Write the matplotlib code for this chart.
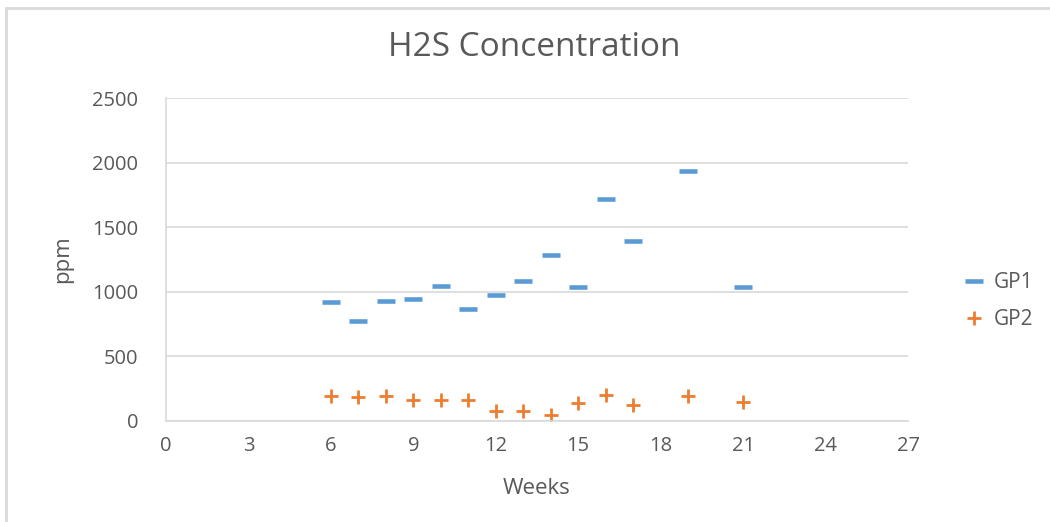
import matplotlib
matplotlib.use("Agg")
import matplotlib.pyplot as plt
from matplotlib.patches import Rectangle

weeks = [6, 7, 8, 9, 10, 11, 12, 13, 14, 15, 16, 17, 19, 21]
gp1 = [923, 772, 931, 941, 1046, 869, 977, 1082, 1288, 1038, 1715, 1395, 1936, 1040]
gp2 = [190, 182, 190, 159, 159, 159, 75, 75, 44, 136, 200, 121, 190, 149]
xticks = [0, 3, 6, 9, 12, 15, 18, 21, 24, 27]
yticks = [0, 500, 1000, 1500, 2000, 2500]

plt.rcParams['font.family'] = ['Open Sans', 'DejaVu Sans']
txt = '#595959'
W, H = 1050, 522
fig = plt.figure(figsize=(W / 100, H / 100), dpi=100)
ax = fig.add_axes([166 / W, 1 - 421 / H, (908 - 166) / W, (421 - 98) / H])

ax.plot(weeks, gp1, linestyle='none', marker='_', markersize=12.5,
        markeredgewidth=3.3, color='#5B9BD5', label='GP1')
ax.plot(weeks, gp2, linestyle='none', marker='+', markersize=10.5,
        markeredgewidth=2.0, color='#ED7D31', label='GP2')

ax.set_xlim(0, 27)
ax.set_ylim(0, 2500)
ax.set_xticks(xticks)
ax.set_yticks(yticks)
ax.tick_params(axis='both', length=0, colors=txt, labelsize=14.5)
ax.tick_params(axis='x', pad=11)
ax.tick_params(axis='y', pad=20)
ax.grid(axis='y', color='#D9D9D9', linewidth=1.2)
ax.set_axisbelow(True)
for s in ['top', 'right']:
    ax.spines[s].set_visible(False)
for s in ['left', 'bottom']:
    ax.spines[s].set_color('#D9D9D9')
    ax.spines[s].set_linewidth(1.2)

ax.set_xlabel('Weeks', color=txt, fontsize=16, labelpad=16)
ax.set_ylabel('ppm', color=txt, fontsize=16, labelpad=14)
fig.text(534 / W, 1 - 48 / H, 'H2S Concentration', color=txt, fontsize=24,
         ha='center', va='center')

leg = fig.legend(loc='center left', bbox_to_anchor=(946 / W, 1 - 301 / H),
                 frameon=False, fontsize=15, handlelength=0.9,
                 handletextpad=0.5, labelspacing=0.75)
for t in leg.get_texts():
    t.set_color(txt)

fig.patches.append(Rectangle((6 / W, -0.1), 1.2, 1 - 8 / H + 0.1,
                             transform=fig.transFigure, fill=False,
                             edgecolor='#D9D9D9', linewidth=2))

fig.savefig('out.png', dpi=100)
